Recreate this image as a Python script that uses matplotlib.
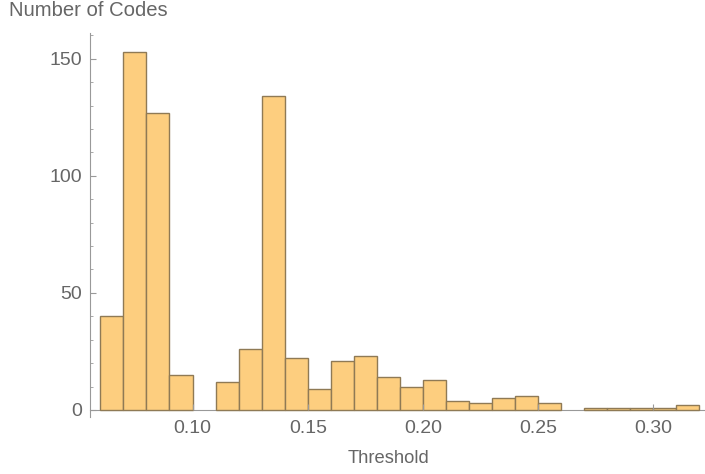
import matplotlib.pyplot as plt
import numpy as np

# Histogram bins of width 0.01, from 0.06 to 0.32
bin_edges = np.round(np.arange(0.06, 0.3201, 0.01), 2)
counts = [40, 153, 127, 15, 0, 12, 26, 134, 22, 9, 21, 23, 14,
          10, 13, 4, 3, 5, 6, 3, 0, 1, 1, 1, 1, 2]
x_ticks = [0.10, 0.15, 0.20, 0.25, 0.30]
x_tick_labels = ["0.10", "0.15", "0.20", "0.25", "0.30"]
y_ticks = [0, 50, 100, 150]

text_color = "#666666"
axis_color = "#999999"

plt.rcParams['font.family'] = ['Liberation Sans', 'DejaVu Sans']

fig = plt.figure(figsize=(7.05, 4.74), dpi=100)
ax = fig.add_axes([90 / 705, 1 - 417 / 474, 615 / 705, 384 / 474])

# Draw bars, skipping empty bins so no zero-height outlines appear
for left, right, c in zip(bin_edges[:-1], bin_edges[1:], counts):
    if c > 0:
        ax.bar(left, c, width=right - left, align="edge",
               color="#FDCE7F", edgecolor="#8F7A55", linewidth=1.0)

ax.set_xlim(0.0555, 0.3224)
ax.set_ylim(-3, 161)

ax.spines['top'].set_visible(False)
ax.spines['right'].set_visible(False)
ax.spines['bottom'].set_position(('data', 0))
ax.spines['bottom'].set_color(axis_color)
ax.spines['left'].set_color(axis_color)
ax.spines['bottom'].set_zorder(0.5)

ax.set_xticks(x_ticks)
ax.set_xticklabels(x_tick_labels)
ax.set_yticks(y_ticks)
ax.set_yticks(np.arange(0, 161, 10), minor=True)

ax.tick_params(axis='both', which='major', direction='in', length=4,
               color=axis_color, labelcolor=text_color, labelsize=14)
ax.tick_params(axis='y', which='minor', direction='in', length=2.5,
               color=axis_color)
ax.tick_params(axis='y', which='major', pad=6)
ax.tick_params(axis='x', which='major', pad=7.5)

# Axis labels placed like the original (label at top-left and bottom)
fig.text(9 / 705, 1 - 16.5 / 474, "Number of Codes", color=text_color,
         fontsize=14.6, ha='left', va='baseline')
fig.text(389 / 705, 1 - 463 / 474, "Threshold", color=text_color,
         fontsize=13.2, ha='center', va='baseline')

fig.savefig("out.png", dpi=100)
